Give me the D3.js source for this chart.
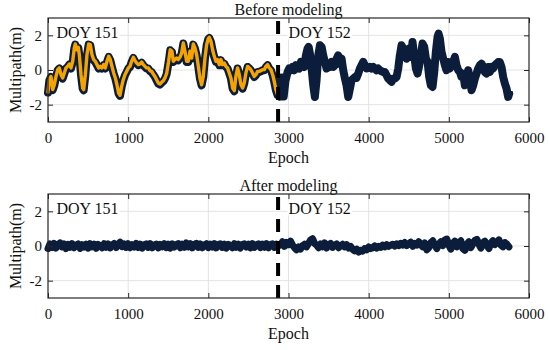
<!DOCTYPE html>
<html><head><meta charset="utf-8">
<script src="https://cdn.jsdelivr.net/npm/d3@7"></script>
<style>html,body{margin:0;padding:0;background:#fff;} svg{display:block;font-family:"Liberation Serif","Times New Roman",serif;}</style>
</head><body><svg id="c" width="550" height="350"></svg>
<script>
// ---------- data ----------
const xTicks = [0, 1000, 2000, 3000, 4000, 5000, 6000];
const yTicks = [-2, 0, 2];
const panelTitles = ["Before modeling", "After modeling"];
const dayLabels = ["DOY 151", "DOY 152"];
const dayBoundaryEpoch = 2870;   // start of DOY 152
const modelEndEpoch = 2864;      // last epoch of DOY 151 model curve

const epochsBefore = [
  0,17,37,58,79,100,121,141,162,183,
  204,224,245,266,287,308,328,341,357,378,
  391,412,432,445,466,486,507,528,549,570,
  590,611,632,653,673,694,715,736,757,777,
  798,819,840,860,881,898,919,939,960,981,
  1002,1023,1043,1064,1085,1106,1126,1147,1168,1189,
  1210,1230,1251,1272,1293,1313,1334,1355,1376,1397,
  1417,1438,1459,1480,1505,1525,1546,1563,1584,1604,
  1625,1646,1667,1688,1708,1729,1750,1771,1792,1812,
  1833,1854,1875,1895,1916,1937,1958,1979,1999,2012,
  2033,2053,2074,2095,2116,2137,2157,2178,2199,2220,
  2240,2261,2282,2303,2324,2344,2365,2386,2407,2428,
  2448,2469,2490,2511,2531,2552,2573,2594,2615,2635,
  2656,2677,2698,2718,2739,2760,2781,2802,2822,2843,
  2864,2890,2915,2940,2962,2989,3009,3030,3051,3072,
  3093,3113,3134,3155,3176,3197,3217,3238,3251,3267,
  3288,3309,3329,3350,3371,3392,3413,3433,3454,3475,
  3496,3517,3537,3558,3579,3600,3620,3641,3662,3683,
  3704,3724,3745,3766,3787,3808,3828,3849,3870,3891,
  3911,3932,3953,3974,3995,4015,4036,4057,4078,4098,
  4119,4140,4161,4182,4202,4223,4244,4265,4286,4306,
  4327,4348,4369,4389,4410,4431,4452,4473,4485,4506,
  4527,4547,4568,4589,4610,4631,4651,4672,4693,4714,
  4735,4755,4776,4797,4818,4838,4859,4872,4888,4909,
  4930,4951,4971,4992,5013,5034,5054,5075,5096,5117,
  5138,5158,5179,5200,5221,5242,5262,5283,5304,5325,
  5346,5366,5387,5408,5429,5449,5470,5491,5512,5533,
  5553,5574,5595,5616,5636,5657,5678,5699,5720,5740,
  5753
];
const mpBefore = [
  -1.27,-0.56,-0.37,-1.13,-0.85,-0.37,0.02,0.12,-0.27,-0.46,
  -0.17,0.12,0.21,0.35,0.12,0.5,1.27,1.5,1.17,1.31,
  0.88,-0.27,-1.04,-1.13,-0.27,0.88,1.5,1.46,0.88,0.6,
  0.5,0.31,0.12,0.21,0.12,0.31,0.12,0.5,0.79,0.6,
  0.21,-0.17,-0.46,-0.85,-1.33,-1.46,-0.94,-0.56,-0.27,-0.08,
  0.12,0.21,0.5,0.73,0.54,0.4,0.31,0.35,0.46,0.31,
  0.21,0.12,0.12,-0.04,-0.08,-0.23,-0.37,-0.56,-0.75,-0.81,
  -0.71,-0.62,-0.46,-0.2,0.5,1.17,1.08,0.5,0.6,0.69,
  0.6,0.73,0.98,1.56,1.08,0.5,0.5,1.08,0.69,1.5,
  1.27,0.88,0.21,-0.46,-0.85,-0.37,0.69,1.46,1.81,1.88,
  1.65,1.17,0.79,0.5,0.6,0.31,0.6,0.31,0.4,0.21,
  0.12,-0.17,-0.46,-1.04,-1.19,-0.37,0.12,-0.27,-0.85,-1.04,
  -0.75,-0.17,0.21,0.12,0.02,-0.17,-0.37,-0.27,-0.08,-0.08,
  -0.04,0.02,0.02,0.21,0.31,0.12,0.02,-0.27,-0.65,-1.13,
  -1.42,-1.5,-0.4,-1.5,-0.6,-0.08,0.12,0.02,0.21,0.02,
  0.31,0.21,0.12,0.5,0.4,0.21,0.88,1.27,1.37,0.98,
  0.12,-0.85,-1.52,-0.56,0.88,1.46,1.37,0.88,0.5,0.12,
  0.4,0.21,0.5,0.21,0.31,0.69,0.88,0.4,0.69,0.02,
  -0.46,-0.85,-1.52,-1.04,-0.56,-0.46,-0.37,-0.42,-0.17,0.12,
  0.31,0.5,0.31,0.12,0.15,0.21,0.12,0.21,0.12,0.02,
  0.12,0.02,-0.04,-0.08,-0.08,-0.27,-0.46,-0.56,-0.65,-0.46,
  -0.46,-0.37,0.12,0.88,1.46,1.27,0.88,0.69,0.88,1.27,
  0.79,1.65,0.88,0.12,-0.17,0.31,0.88,1.56,1.37,0.69,
  0.5,-0.37,-0.85,-0.94,-0.08,1.08,1.94,2.13,1.85,1.08,
  0.69,0.31,0.02,0.5,0.12,0.31,0.5,0.79,0.31,0.02,
  -0.08,-0.37,-0.17,-0.85,-0.75,0.02,-0.46,-1.13,-0.85,-0.46,
  -0.17,0.12,0.31,0.4,0.21,-0.08,-0.17,0.21,-0.08,0.21,
  0.12,0.31,0.4,0.5,0.5,0.21,-0.37,-0.75,-1.04,-1.52,
  -1.33
];

const afterStep = 25; // epoch spacing of the after-modeling residuals
const mpAfter151 = [
  -0.15,0.12,-0.08,0.15,-0.12,0.08,0.18,-0.05,0.12,-0.15,0.10,-0.08,0.14,-0.10,0.05,0.12,-0.14,0.08,-0.06,0.10,
  -0.12,0.14,-0.05,0.11,-0.13,0.09,0.02,-0.10,0.13,-0.07,0.12,-0.11,0.06,0.15,-0.09,0.10,0.22,-0.04,0.12,-0.08,
  0.13,-0.10,0.08,-0.06,0.15,-0.09,0.11,-0.12,0.07,0.12,-0.08,0.14,-0.10,0.06,0.11,-0.11,0.09,-0.05,0.13,-0.09,
  0.10,-0.12,0.12,-0.06,0.08,0.14,-0.10,0.11,-0.07,0.18,-0.05,0.13,-0.11,0.09,0.15,-0.08,0.12,-0.10,0.07,0.13,
  -0.09,0.11,-0.06,0.14,-0.11,0.08,0.12,-0.08,0.10,-0.12,0.09,0.04,-0.10,0.13,-0.07,0.11,-0.12,0.08,0.12,-0.06,
  0.10,-0.11,0.13,-0.08,0.06,0.12,-0.09,0.11,-0.07,0.14,-0.10,0.08,0.12,-0.08,0.10,0.02
];
const mpAfter152 = [
  0.05,0.25,-0.02,0.20,0.08,0.28,0.05,-0.10,-0.22,-0.05,-0.18,0.02,0.10,-0.05,0.15,0.35,0.42,0.15,0.05,-0.10,
  0.12,-0.05,0.18,-0.12,0.08,0.15,-0.08,0.05,0.12,-0.10,0.02,0.10,-0.05,0.08,-0.12,-0.02,-0.20,-0.28,-0.18,-0.35,
  -0.25,-0.30,-0.15,-0.22,-0.05,-0.15,-0.10,0.00,-0.12,-0.02,-0.08,0.05,-0.05,0.08,-0.02,0.05,0.10,0.00,0.12,0.02,
  0.15,0.05,0.20,0.02,0.12,0.22,-0.02,0.15,0.05,0.25,0.08,-0.05,0.18,-0.22,-0.10,0.20,0.30,0.05,-0.15,0.10,
  0.25,0.02,0.35,0.40,0.05,-0.18,0.15,0.28,-0.05,0.20,0.30,-0.15,-0.25,0.10,0.25,-0.10,0.12,0.32,0.38,0.10,
  -0.12,0.20,0.28,0.02,-0.15,0.18,0.30,0.08,0.22,0.35,0.05,-0.05,0.20,0.10,-0.05
];

// ---------- layout ----------
const svg = d3.select("#c");
const L = 48, W = 481, H = 104;
const panelTops = [18, 194];
const navy = "#0b1d3a", orange = "#f4a300", axisCol = "#262626";

const x = d3.scaleLinear().domain([0, 6000]).range([0, W]);
const y = d3.scaleLinear().domain([-3, 3]).range([H, 0]);

const beforeData = epochsBefore.map((e, i) => ({e, v: mpBefore[i]}));
const modelData = beforeData.filter(d => d.e <= modelEndEpoch);
const afterVals = mpAfter151.concat(mpAfter152);
const afterData = afterVals.map((v, i) => ({e: i * afterStep, v}));

const line = d3.line().x(d => x(d.e)).y(d => y(d.v)).curve(d3.curveLinear);

function panel(idx, lines) {
  const g = svg.append("g").attr("transform", `translate(${L},${panelTops[idx]})`);
  // grid
  g.append("g").selectAll("line").data(xTicks.slice(1, -1)).join("line")
    .attr("x1", d => x(d)).attr("x2", d => x(d)).attr("y1", 0).attr("y2", H)
    .attr("stroke", "#e3e3e3").attr("stroke-width", 1);
  g.append("g").selectAll("line").data(yTicks).join("line")
    .attr("y1", d => y(d)).attr("y2", d => y(d)).attr("x1", 0).attr("x2", W)
    .attr("stroke", "#e3e3e3").attr("stroke-width", 1);

  // day labels (white background boxes under the text)
  const lblG = g.append("g");
  [[6, dayLabels[0]], [x(dayBoundaryEpoch) + 8, dayLabels[1]]].forEach(([tx, t]) => {
    const txt = lblG.append("text").attr("x", tx + 2.5).attr("y", 19.5).attr("font-size", 16)
      .attr("fill", "#111").text(t);
    const b = txt.node().getBBox();
    lblG.insert("rect", () => txt.node()).attr("x", b.x - 1).attr("y", b.y + 1).attr("width", b.width + 2).attr("height", b.height - 2)
      .attr("fill", "#fff");
  });

  // data lines
  lines.forEach(l => {
    g.append("path").datum(l.data).attr("d", line)
      .attr("fill", "none").attr("stroke", l.color).attr("stroke-width", l.width)
      .attr("stroke-linejoin", "round").attr("stroke-linecap", "round")
      .attr("transform", l.dy ? `translate(0,${l.dy})` : null);
  });

  // day boundary dashed line (drawn bottom to top)
  g.append("path")
    .attr("d", d3.line()([[x(dayBoundaryEpoch), y(-3)], [x(dayBoundaryEpoch), y(3)]]))
    .attr("stroke", "#000").attr("stroke-width", 4).attr("stroke-dasharray", "13,9");

  // axes
  const ax = (a) => a.tickSizeOuter(0);
  const bottom = g.append("g").attr("transform", `translate(0,${H})`)
    .call(ax(d3.axisBottom(x).tickValues(xTicks).tickSize(-5).tickPadding(10).tickFormat(d3.format("d"))));
  const left = g.append("g")
    .call(ax(d3.axisLeft(y).tickValues(yTicks).tickSize(-5).tickPadding(6).tickFormat(d => d < 0 ? "-" + Math.abs(d) : d)));
  const top = g.append("g").call(ax(d3.axisTop(x).tickValues(xTicks).tickSize(-5).tickFormat("")));
  const right = g.append("g").attr("transform", `translate(${W},0)`)
    .call(ax(d3.axisRight(y).tickValues(yTicks).tickSize(-5).tickFormat("")));
  [bottom, left, top, right].forEach(a => {
    a.select(".domain").remove();
    a.selectAll(".tick line").attr("stroke", axisCol).attr("stroke-width", 1);
    a.selectAll("text").attr("fill", "#111").attr("font-size", 15).attr("font-family", "Liberation Serif");
  });
  g.append("rect").attr("x", 0).attr("y", 0).attr("width", W).attr("height", H)
    .attr("fill", "none").attr("stroke", axisCol).attr("stroke-width", 1.2);

  // title
  g.append("text").attr("x", W / 2).attr("y", -3).attr("text-anchor", "middle")
    .attr("font-size", 16).attr("fill", "#111").text(panelTitles[idx]);
  // x label
  g.append("text").attr("x", W / 2).attr("y", H + 41).attr("text-anchor", "middle")
    .attr("font-size", 16).attr("fill", "#111").text("Epoch");
  // y label
  g.append("text").attr("transform", `translate(${21 - L},${H / 2}) rotate(-90)`)
    .attr("text-anchor", "middle").attr("font-size", 16).attr("fill", "#111").text("Multipath(m)");
}

panel(0, [
  {data: beforeData, color: navy, width: 8, dy: 0.6},
  {data: modelData, color: orange, width: 3.4}
]);
panel(1, [
  {data: afterData, color: navy, width: 7}
]);
</script>
</body></html>
